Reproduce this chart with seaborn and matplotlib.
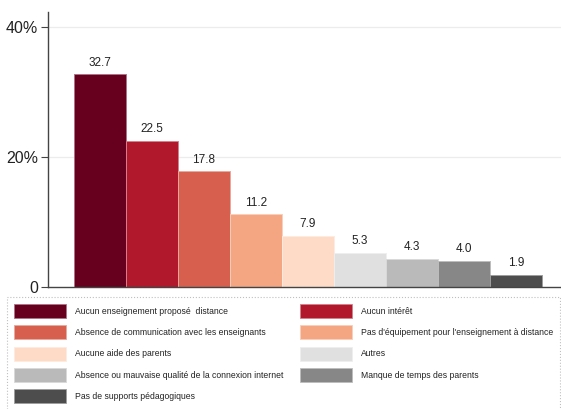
import matplotlib
matplotlib.use("Agg")
import matplotlib.pyplot as plt
from matplotlib.patches import Patch
from matplotlib.colors import to_rgb
import seaborn as sns
import pandas as pd

categories = [
    "Aucun enseignement proposé  distance",
    "Aucun intérêt",
    "Absence de communication avec les enseignants",
    "Pas d'équipement pour l'enseignement à distance",
    "Aucune aide des parents",
    "Autres",
    "Absence ou mauvaise qualité de la connexion internet",
    "Manque de temps des parents",
    "Pas de supports pédagogiques",
]
values = [32.7, 22.5, 17.8, 11.2, 7.9, 5.3, 4.3, 4.0, 1.9]
colors = ["#67001f", "#b2182b", "#d6604d", "#f4a582", "#fddbc7",
          "#e0e0e0", "#bababa", "#878787", "#4d4d4d"]
ytick_values = [0, 20, 40]
ytick_labels = ["0", "20%", "40%"]

sns.set_theme(style="white")
plt.rcParams["font.family"] = ["Liberation Sans", "DejaVu Sans"]

df = pd.DataFrame({"cat": categories, "val": values})


def light_edge(c):
    r, g, b = to_rgb(c)
    return (0.55 * r + 0.45, 0.55 * g + 0.45, 0.55 * b + 0.45)


fig = plt.figure(figsize=(5.61, 4.09), dpi=100)
ax = fig.add_axes([48 / 561, 1 - 287 / 409, 1 - 48 / 561, 275 / 409])

sns.barplot(data=df, x="cat", y="val", hue="cat", palette=colors,
            order=categories, hue_order=categories, legend=False,
            width=1.0, saturation=1, ax=ax)

# thin light outline around each bar
for patch, c in zip(ax.patches, colors):
    patch.set_edgecolor(light_edge(c))
    patch.set_linewidth(0.7)

for cont in ax.containers:
    ax.bar_label(cont, fmt="%.1f", padding=4, fontsize=8.5, color="#222222")

ax.set_xlim(-1.0, 8.865)
ax.set_ylim(0, 42.3)
ax.set_xticks([])
ax.set_yticks(ytick_values)
ax.set_yticklabels(ytick_labels, fontsize=11.5, color="#222222")
ax.tick_params(axis="y", which="both", left=True, length=5, width=0.8,
               color="#444444", pad=2)
ax.set_xlabel("")
ax.set_ylabel("")

for y in ytick_values[1:]:
    ax.axhline(y, color="#ececec", linewidth=0.9, zorder=0)
ax.set_axisbelow(True)

for side in ["top", "right"]:
    ax.spines[side].set_visible(False)
for side in ["left", "bottom"]:
    ax.spines[side].set_color("#444444")
    ax.spines[side].set_linewidth(1.0)

# legend entries laid out row by row across two columns
order = list(range(0, len(categories), 2)) + list(range(1, len(categories), 2))
handles = [Patch(facecolor=colors[i], edgecolor=light_edge(colors[i]),
                 linewidth=0.6) for i in order]
labels = [categories[i] for i in order]
leg = fig.legend(handles, labels, ncol=2, loc="upper left",
                 bbox_to_anchor=(7 / 561, 1 - 296.5 / 409),
                 fontsize=6.25, frameon=True, fancybox=False,
                 handlelength=6.0, handleheight=2.1, handletextpad=1.0,
                 labelspacing=0.85, columnspacing=1.9, borderpad=0.85,
                 borderaxespad=0)
frame = leg.get_frame()
frame.set_linestyle(":")
frame.set_edgecolor("#b0b0b0")
frame.set_linewidth(0.8)
for t in leg.get_texts():
    t.set_color("#222222")

fig.savefig("out.png", dpi=100)
